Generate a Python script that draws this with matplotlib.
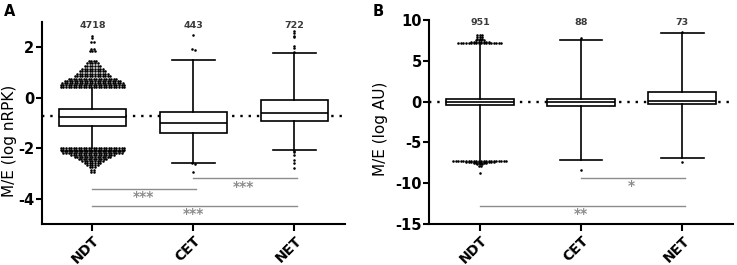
import numpy as np
import matplotlib
matplotlib.use("Agg")
import matplotlib.pyplot as plt
import matplotlib.transforms as mtransforms

plt.rcParams['font.family'] = ['DejaVu Sans']
plt.rcParams['font.weight'] = 'bold'
plt.rcParams['axes.unicode_minus'] = False

cats = ['NDT', 'CET', 'NET']

# panel A: M/E (log nRPK)
a_q1 = [-1.12, -1.40, -0.93]
a_med = [-0.78, -0.98, -0.60]
a_q3 = [-0.45, -0.58, -0.10]
a_lo = [-1.98, -2.57, -2.06]
a_hi = [0.40, 1.50, 1.77]
a_n = [4718, 443, 722]
a_ref = -0.74
a_ndt_hi_lv = [0.42, 0.50, 0.58, 0.66, 0.74, 0.86, 0.96, 1.06, 1.16, 1.27, 1.37, 1.47, 1.87, 1.95, 2.20, 2.35, 2.45]
a_ndt_hi_ct = [26, 26, 25, 23, 20, 15, 13, 11, 9, 7, 5, 4, 3, 2, 2, 1, 1]
a_ndt_lo_lv = [-1.98, -2.05, -2.12, -2.19, -2.27, -2.35, -2.43, -2.51, -2.59, -2.67, -2.75, -2.85, -2.95]
a_ndt_lo_ct = [26, 26, 25, 24, 18, 15, 12, 9, 7, 5, 3, 2, 2]
a_cet_out = [2.47, 1.93, 1.91, -2.60, -2.62, -2.95]
a_net_out = [2.66, 2.58, 2.46, 2.40, 2.06, 1.98, 1.82, -2.12, -2.16, -2.28, -2.46, -2.60, -2.79]
a_sig = [(0, 1, -3.60, '***'), (1, 2, -3.19, '***'), (0, 2, -4.28, '***')]

# panel B: M/E (log AU)
b_q1 = [-0.37, -0.49, -0.25]
b_med = [0.0, -0.05, 0.10]
b_q3 = [0.37, 0.28, 1.22]
b_lo = [-7.20, -7.15, -6.90]
b_hi = [7.10, 7.50, 8.37]
b_n = [951, 88, 73]
b_ref = 0.0
b_ndt_hi_lv = [7.12, 7.30, 7.50, 7.70, 7.95, 8.10]
b_ndt_hi_ct = [18, 8, 4, 3, 3, 3]
b_ndt_lo_lv = [-7.25, -7.40, -7.55, -7.70, -7.90, -8.75]
b_ndt_lo_ct = [22, 12, 6, 3, 2, 1]
b_cet_out = [7.80, -8.40]
b_net_out = [8.55, -7.35]
b_sig = [(1, 2, -9.35, '*'), (0, 2, -12.75, '**')]


def swarm_x(vals, center, dy, dx):
    vals = np.asarray(vals, dtype=float)
    rows = np.round(vals / dy)
    xs = np.empty(len(vals))
    for r in np.unique(rows):
        idx = np.where(rows == r)[0]
        n = len(idx)
        xs[idx] = center + (np.arange(n) - (n - 1) / 2) * dx
    return xs


def panel(ax, q1, med, q3, lo, hi, ns, ref, outs, sig, ylim, yticks, ylabel,
          dy, nrow_y, star_off, lab_xy):
    stats = []
    for i in range(3):
        stats.append(dict(med=med[i], q1=q1[i], q3=q3[i], whislo=lo[i],
                          whishi=hi[i], fliers=[]))
    ax.axhline(ref, color='black', lw=1.7, ls=(0, (1, 2.5)), zorder=1)
    bp = ax.bxp(stats, positions=range(3), widths=0.67, patch_artist=True,
                showfliers=False,
                boxprops=dict(facecolor='white', edgecolor='black', lw=1.2),
                medianprops=dict(color='black', lw=1.2),
                whiskerprops=dict(color='black', lw=1.2),
                capprops=dict(color='black', lw=1.2), capwidths=0.42,
                zorder=2)
    bp['caps'][0].set_visible(False)
    bp['caps'][1].set_visible(False)
    for i, v in enumerate(outs):
        xs = swarm_x(v, i, dy, 0.025)
        ax.scatter(xs, v, s=3.4, color='black', zorder=3, linewidths=0)
    for i, n in enumerate(ns):
        ax.text(i, nrow_y, str(n), ha='center', va='center', fontsize=6.8,
                color='#3a3a3a')
    for a, b, y, s in sig:
        ax.plot([a, b + 0.03], [y, y], color='#8c8c8c', lw=1)
        ax.text((a + b) / 2, y - star_off, s, ha='center', va='center',
                fontsize=10, color='#8c8c8c')
    ax.set_xlim(-0.5, 2.5)
    ax.set_ylim(*ylim)
    ax.set_yticks(yticks)
    ax.set_xticks(range(3))
    ax.set_xticklabels(cats, rotation=45, ha='right', va='top',
                       rotation_mode='anchor', fontsize=10)
    shift = mtransforms.ScaledTranslation(-3 / 100, 0, ax.figure.dpi_scale_trans)
    for t in ax.get_xticklabels():
        t.set_transform(t.get_transform() + shift)
    ax.tick_params(axis='y', labelsize=10.5, width=1.5, length=4, pad=1.5)
    ax.tick_params(axis='x', width=1.5, length=5, pad=1.5)
    ax.set_ylabel(ylabel, fontsize=11, va='center')
    ax.yaxis.set_label_coords(*lab_xy)
    for s in ['top', 'right']:
        ax.spines[s].set_visible(False)
    for s in ['left', 'bottom']:
        ax.spines[s].set_linewidth(1.5)


fig = plt.figure(figsize=(7.37, 2.65), dpi=100)
ax1 = fig.add_axes([0.057, 0.1547, 0.411, 0.762])
ax2 = fig.add_axes([0.5825, 0.1547, 0.412, 0.77])

a_ndt = np.concatenate([np.repeat(a_ndt_hi_lv, a_ndt_hi_ct),
                        np.repeat(a_ndt_lo_lv, a_ndt_lo_ct)])
b_ndt = np.concatenate([np.repeat(b_ndt_hi_lv, b_ndt_hi_ct),
                        np.repeat(b_ndt_lo_lv, b_ndt_lo_ct)])

panel(ax1, a_q1, a_med, a_q3, a_lo, a_hi, a_n, a_ref,
      [a_ndt, a_cet_out, a_net_out], a_sig, (-5, 3), [-4, -2, 0, 2],
      'M/E (log nRPK)', 0.03, 2.88, 0.33, (-0.108, 0.41))
panel(ax2, b_q1, b_med, b_q3, b_lo, b_hi, b_n, b_ref,
      [b_ndt, b_cet_out, b_net_out], b_sig, (-15, 10), [-15, -10, -5, 0, 5, 10],
      'M/E (log AU)', 0.15, 9.7, 1.05, (-0.162, 0.466))

fig.text(0.005, 0.985, 'A', fontsize=10.5, va='top')
fig.text(0.506, 0.985, 'B', fontsize=10.5, va='top')

fig.savefig('out.png', dpi=100)
